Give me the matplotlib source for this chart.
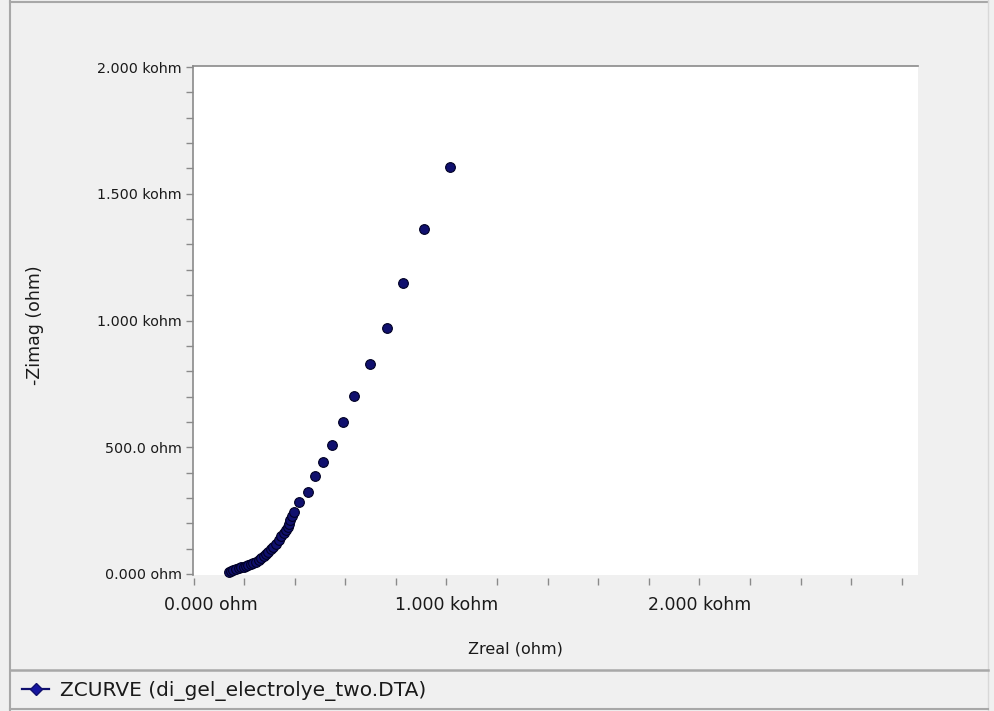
import matplotlib
matplotlib.use("Agg")
import matplotlib.pyplot as plt
from matplotlib.lines import Line2D
from matplotlib.ticker import FixedLocator, MultipleLocator
from matplotlib.transforms import ScaledTranslation

# ---- data (ohm) ----
zreal = [142, 150, 158, 168, 178, 188, 198, 208, 217, 227, 237, 247, 257, 267,
         277, 287, 296, 306, 316, 326, 336, 346, 356, 364, 372, 378, 383, 391,
         399, 419, 451, 482, 510, 549, 589, 636, 696, 763, 830, 913, 1012]
zimag = [8, 12, 16, 20, 24, 26, 28, 32, 36, 40, 43, 49, 55, 63,
         71, 79, 87, 97, 107, 120, 134, 148, 162, 174, 185, 199, 213, 229,
         245, 284, 323, 387, 442, 509, 600, 702, 828, 970, 1148, 1361, 1606]

xmajor = [0, 1000, 2000]
xmajor_labels = ["0.000 ohm", "1.000 kohm", "2.000 kohm"]
ymajor = [0, 500, 1000, 1500, 2000]
ymajor_labels = ["0.000 ohm", "500.0 ohm", "1.000 kohm", "1.500 kohm", "2.000 kohm"]
xlabel = "Zreal (ohm)"
ylabel = "-Zimag (ohm)"
legend_label = "ZCURVE (di_gel_electrolye_two.DTA)"

plt.rcParams['font.family'] = ['DejaVu Sans']
W, H = 994, 711
fig = plt.figure(figsize=(W / 100, H / 100), dpi=100)
fig.patch.set_facecolor('#f0f0f0')

ax = fig.add_axes([193 / W, 1 - 575 / H, (918 - 193) / W, (575 - 66) / H])
ax.set_facecolor('white')

marker_face = '#10106e'
marker_edge = '#000024'
ax.plot(zreal, zimag, linestyle='none', marker='o', markersize=7,
        markerfacecolor=marker_face, markeredgecolor=marker_edge,
        markeredgewidth=0.8, clip_on=False, zorder=3)

ax.set_xlim(-2, 2864)
ax.set_ylim(-4, 2004)

grey = '#8a8a8a'
for s in ['right', 'bottom']:
    ax.spines[s].set_visible(False)
for s in ['left', 'top']:
    ax.spines[s].set_color(grey)
    ax.spines[s].set_linewidth(1.2)
ax.spines['bottom'].set_position(('outward', 2))

ax.xaxis.set_major_locator(FixedLocator(xmajor))
ax.xaxis.set_minor_locator(MultipleLocator(200))
ax.set_xticklabels(xmajor_labels)
ax.yaxis.set_major_locator(FixedLocator(ymajor))
ax.yaxis.set_minor_locator(MultipleLocator(100))
ax.set_yticklabels(ymajor_labels)

text_col = '#1a1a1a'
ax.tick_params(axis='both', which='both', direction='out', length=5, width=1,
               color=grey, labelcolor=text_col)
ax.tick_params(axis='x', which='major', pad=8, labelsize=12.5)
ax.tick_params(axis='y', which='major', pad=3, labelsize=10.3)

# shift the first x label like the reference
lbl0 = ax.xaxis.get_major_ticks()[0].label1
lbl0.set_transform(lbl0.get_transform() + ScaledTranslation(17 / 100, 0, fig.dpi_scale_trans))

fig.text(515 / W, 1 - 649 / H, xlabel, ha='center', va='center', fontsize=11.5, color=text_col)
fig.text(35 / W, 1 - 325 / H, ylabel, ha='center', va='center', rotation=90, fontsize=12.5, color=text_col)

# frame lines of the panel
frame_col = '#a8a8a8'
fig.add_artist(Line2D([10 / W, 10 / W], [0, 1], transform=fig.transFigure, color=frame_col, lw=1.5))
fig.add_artist(Line2D([10 / W, 988 / W], [1 - 2 / H, 1 - 2 / H], transform=fig.transFigure, color=frame_col, lw=1.5))
fig.add_artist(Line2D([988 / W, 988 / W], [0, 1], transform=fig.transFigure, color='#d8d8d8', lw=1.0))
fig.add_artist(Line2D([10 / W, 988 / W], [1 - 670 / H, 1 - 670 / H], transform=fig.transFigure, color=frame_col, lw=1.8))
fig.add_artist(Line2D([10 / W, 988 / W], [1 - 709 / H, 1 - 709 / H], transform=fig.transFigure, color=frame_col, lw=1.5))

# legend
handle = Line2D([], [], color='#10106e', marker='D', markersize=6.5, lw=1.6,
                markerfacecolor='#1515a0', markeredgecolor='#10106e')
fig.legend([handle], [legend_label], loc='center left',
           bbox_to_anchor=(22 / W, 1 - 691 / H), frameon=False, fontsize=14.5,
           handlelength=1.35, handletextpad=0.55, borderpad=0, borderaxespad=0,
           labelcolor=text_col)

fig.savefig('out.png', dpi=100, facecolor=fig.get_facecolor())
